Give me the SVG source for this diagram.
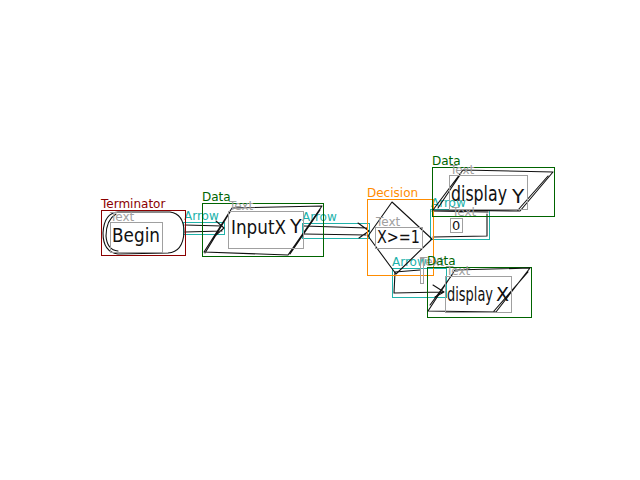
<svg xmlns="http://www.w3.org/2000/svg" width="640" height="480" viewBox="0 0 640 480">
<style>
.bb{fill:none;stroke-width:1}
.term{stroke:#8b0000}
.data{stroke:#006400}
.dec{stroke:#ff8c00}
.arr{stroke:#20b2aa}
.tx{stroke:#a0a0a0}
.lbl{font-family:"DejaVu Sans",sans-serif;font-size:12px}
.sk{fill:none;stroke:#111;stroke-width:1.1;stroke-linecap:round;stroke-linejoin:round}
.hw{font-family:"DejaVu Sans",sans-serif;fill:#111}
</style>
<rect width="640" height="480" fill="#fff"/>

<g id="connectors">
  <g id="arrow1">
    <rect class="bb arr" x="183.5" y="222.5" width="41" height="12"/>
    <path class="sk" d="M185,225 L222,226 M185,232 L222,231 M216,221 L224,228 L216,235"/>
    <text class="lbl" x="184" y="220" fill="#20b2aa">Arrow</text>
  </g>
  <g id="arrow2">
    <rect class="bb arr" x="302.5" y="223.5" width="67" height="15"/>
    <path class="sk" d="M304,226 L367,228 M304,234 L366,235 M358,223 L369,231 L359,238"/>
    <text class="lbl" x="302" y="221" fill="#20b2aa">Arrow</text>
  </g>
  <g id="arrow3">
    <rect class="bb arr" x="430.5" y="209.5" width="59" height="30"/>
    <path class="sk" d="M433,237 L487,236 L487,214 M432,211 L488,212"/>
    <text class="lbl" x="431" y="207" fill="#20b2aa">Arrow</text>
  </g>
  <g id="arrow4">
    <rect class="bb arr" x="392.5" y="268.5" width="54" height="29"/>
    <path class="sk" d="M395,272 L394,293 L443,292 M395,272 L420,270 M433,285 L444,292 L435,297"/>
    <text class="lbl" x="392" y="266" fill="#20b2aa">Arrow</text>
  </g>
</g>

<g id="terminator">
  <rect class="bb term" x="101.5" y="210.5" width="84" height="45"/>
  <path class="sk" d="M118,212 L170,212 Q184,214 184,232 Q183,252 168,253 L118,254 Q103,252 103,233 Q104,213 118,212 Z M116,214 Q106,220 106,236 Q107,250 118,251"/>
  <text class="lbl" x="101" y="208" fill="#8b0000">Terminator</text>
  <rect class="bb tx" x="110.5" y="222.5" width="52" height="30"/>
  <text class="lbl" x="110" y="221" fill="#a0a0a0">Text</text>
  <text class="hw" x="112" y="242" font-size="19" textLength="48" lengthAdjust="spacingAndGlyphs">Begin</text>
</g>

<g id="data1">
  <rect class="bb data" x="202.5" y="203.5" width="121" height="53"/>
  <path class="sk" d="M204,252 L288,255 L322,206 L232,208 L204,252 M205,253 L230,212 M290,254 L320,210"/>
  <text class="lbl" x="202" y="201" fill="#006400">Data</text>
  <rect class="bb tx" x="228.5" y="211.5" width="75" height="37"/>
  <text class="lbl" x="229" y="210" fill="#a0a0a0">Text</text>
  <text class="hw" x="231" y="234" font-size="20" textLength="55" lengthAdjust="spacingAndGlyphs">InputX</text>
  <text class="hw" x="290" y="233" font-size="19">Y</text>
</g>

<g id="decision">
  <rect class="bb dec" x="367.5" y="199.5" width="66" height="76"/>
  <path class="sk" d="M392,202 L432,239 L396,274 L368,236 Z"/>
  <text class="lbl" x="367" y="197" fill="#ff8c00">Decision</text>
  <rect class="bb tx" x="375.5" y="227.5" width="47" height="21"/>
  <text class="lbl" x="376" y="226" fill="#a0a0a0">Text</text>
  <text class="hw" x="377" y="243" font-size="17" textLength="43" lengthAdjust="spacingAndGlyphs">X&gt;=1</text>
</g>

<g id="data2">
  <rect class="bb data" x="432.5" y="167.5" width="122" height="49"/>
  <path class="sk" d="M433,210 L520,211 L553,172 L463,170 Z M438,208 L460,175 M518,210 L548,176"/>
  <text class="lbl" x="432" y="165" fill="#006400">Data</text>
  <rect class="bb tx" x="449.5" y="175.5" width="78" height="34"/>
  <text class="lbl" x="450" y="174" fill="#a0a0a0">Text</text>
  <text class="hw" x="451" y="201" font-size="21" textLength="56" lengthAdjust="spacingAndGlyphs">display</text>
  <text class="hw" x="512" y="203" font-size="20">Y</text>
</g>

<g id="text0">
  <rect class="bb tx" x="450.5" y="218.5" width="12" height="14"/>
  <text class="lbl" x="452" y="216" fill="#a0a0a0">Text</text>
  <text class="hw" x="452" y="230" font-size="13">0</text>
</g>

<g id="textT">
  <rect class="bb tx" x="420.5" y="258.5" width="3" height="25"/>
  <text class="lbl" x="420" y="266" fill="#a0a0a0">Text</text>
</g>

<g id="data3">
  <rect class="bb data" x="427.5" y="267.5" width="104" height="50"/>
  <path class="sk" d="M428,311 L496,312 L530,268 L455,270 Z M430,305 L452,275 M494,311 L528,272"/>
  <text class="lbl" x="427" y="265" fill="#006400">Data</text>
  <rect class="bb tx" x="445.5" y="276.5" width="66" height="36"/>
  <text class="lbl" x="446" y="275" fill="#a0a0a0">Text</text>
  <text class="hw" x="447" y="301" font-size="19" textLength="46" lengthAdjust="spacingAndGlyphs">display</text>
  <text class="hw" x="496" y="301" font-size="19">X</text>
</g>
</svg>
